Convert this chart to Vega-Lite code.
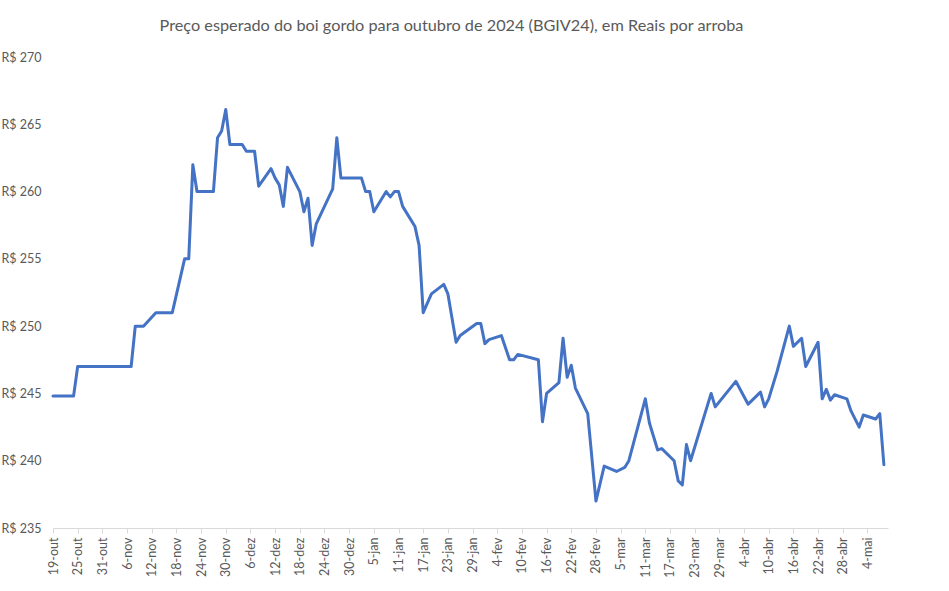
{
  "$schema": "https://vega.github.io/schema/vega-lite/v6.json",
  "autosize": "none",
  "width": 835,
  "height": 471,
  "padding": {"left": 53, "top": 57, "right": 61, "bottom": 63},
  "background": "white",
  "title": {
    "text": "Preço esperado do boi gordo para outubro de 2024 (BGIV24), em Reais por arroba",
    "anchor": "middle",
    "frame": "group",
    "dx": -19,
    "offset": 17,
    "font": "Lato",
    "fontSize": 16.25,
    "fontWeight": "normal",
    "color": "#595959"
  },
  "config": {
    "view": {"stroke": null},
    "font": "Lato"
  },
  "data": {
    "values": [
      {"date": "2023-10-19", "price": 244.8},
      {"date": "2023-10-20", "price": 244.8},
      {"date": "2023-10-23", "price": 244.8},
      {"date": "2023-10-24", "price": 244.8},
      {"date": "2023-10-25", "price": 247.0},
      {"date": "2023-10-26", "price": 247.0},
      {"date": "2023-10-27", "price": 247.0},
      {"date": "2023-10-30", "price": 247.0},
      {"date": "2023-10-31", "price": 247.0},
      {"date": "2023-11-01", "price": 247.0},
      {"date": "2023-11-03", "price": 247.0},
      {"date": "2023-11-06", "price": 247.0},
      {"date": "2023-11-07", "price": 247.0},
      {"date": "2023-11-08", "price": 250.0},
      {"date": "2023-11-09", "price": 250.0},
      {"date": "2023-11-10", "price": 250.0},
      {"date": "2023-11-13", "price": 251.0},
      {"date": "2023-11-14", "price": 251.0},
      {"date": "2023-11-16", "price": 251.0},
      {"date": "2023-11-17", "price": 251.0},
      {"date": "2023-11-20", "price": 255.0},
      {"date": "2023-11-21", "price": 255.0},
      {"date": "2023-11-22", "price": 262.0},
      {"date": "2023-11-23", "price": 260.0},
      {"date": "2023-11-24", "price": 260.0},
      {"date": "2023-11-27", "price": 260.0},
      {"date": "2023-11-28", "price": 264.0},
      {"date": "2023-11-29", "price": 264.5},
      {"date": "2023-11-30", "price": 266.1},
      {"date": "2023-12-01", "price": 263.5},
      {"date": "2023-12-04", "price": 263.5},
      {"date": "2023-12-05", "price": 263.0},
      {"date": "2023-12-06", "price": 263.0},
      {"date": "2023-12-07", "price": 263.0},
      {"date": "2023-12-08", "price": 260.4},
      {"date": "2023-12-11", "price": 261.7},
      {"date": "2023-12-12", "price": 261.0},
      {"date": "2023-12-13", "price": 260.5},
      {"date": "2023-12-14", "price": 258.9},
      {"date": "2023-12-15", "price": 261.8},
      {"date": "2023-12-18", "price": 260.0},
      {"date": "2023-12-19", "price": 258.5},
      {"date": "2023-12-20", "price": 259.5},
      {"date": "2023-12-21", "price": 256.0},
      {"date": "2023-12-22", "price": 257.6},
      {"date": "2023-12-26", "price": 260.2},
      {"date": "2023-12-27", "price": 264.0},
      {"date": "2023-12-28", "price": 261.0},
      {"date": "2023-12-29", "price": 261.0},
      {"date": "2024-01-02", "price": 261.0},
      {"date": "2024-01-03", "price": 260.0},
      {"date": "2024-01-04", "price": 260.0},
      {"date": "2024-01-05", "price": 258.5},
      {"date": "2024-01-08", "price": 260.0},
      {"date": "2024-01-09", "price": 259.6},
      {"date": "2024-01-10", "price": 260.0},
      {"date": "2024-01-11", "price": 260.0},
      {"date": "2024-01-12", "price": 258.9},
      {"date": "2024-01-15", "price": 257.4},
      {"date": "2024-01-16", "price": 256.0},
      {"date": "2024-01-17", "price": 251.0},
      {"date": "2024-01-19", "price": 252.4},
      {"date": "2024-01-22", "price": 253.1},
      {"date": "2024-01-23", "price": 252.4},
      {"date": "2024-01-25", "price": 248.8},
      {"date": "2024-01-26", "price": 249.3},
      {"date": "2024-01-30", "price": 250.2},
      {"date": "2024-01-31", "price": 250.2},
      {"date": "2024-02-01", "price": 248.7},
      {"date": "2024-02-02", "price": 249.0},
      {"date": "2024-02-05", "price": 249.3},
      {"date": "2024-02-07", "price": 247.5},
      {"date": "2024-02-08", "price": 247.5},
      {"date": "2024-02-09", "price": 247.9},
      {"date": "2024-02-14", "price": 247.5},
      {"date": "2024-02-15", "price": 242.9},
      {"date": "2024-02-16", "price": 245.0},
      {"date": "2024-02-19", "price": 245.8},
      {"date": "2024-02-20", "price": 249.1},
      {"date": "2024-02-21", "price": 246.2},
      {"date": "2024-02-22", "price": 247.1},
      {"date": "2024-02-23", "price": 245.4},
      {"date": "2024-02-26", "price": 243.5},
      {"date": "2024-02-28", "price": 237.0},
      {"date": "2024-03-01", "price": 239.6},
      {"date": "2024-03-04", "price": 239.2},
      {"date": "2024-03-06", "price": 239.5},
      {"date": "2024-03-07", "price": 240.0},
      {"date": "2024-03-11", "price": 244.6},
      {"date": "2024-03-12", "price": 242.8},
      {"date": "2024-03-14", "price": 240.8},
      {"date": "2024-03-15", "price": 240.9},
      {"date": "2024-03-18", "price": 240.0},
      {"date": "2024-03-19", "price": 238.5},
      {"date": "2024-03-20", "price": 238.2},
      {"date": "2024-03-21", "price": 241.2},
      {"date": "2024-03-22", "price": 240.0},
      {"date": "2024-03-27", "price": 245.0},
      {"date": "2024-03-28", "price": 244.0},
      {"date": "2024-04-02", "price": 245.9},
      {"date": "2024-04-05", "price": 244.2},
      {"date": "2024-04-08", "price": 245.1},
      {"date": "2024-04-09", "price": 244.0},
      {"date": "2024-04-10", "price": 244.6},
      {"date": "2024-04-12", "price": 246.6},
      {"date": "2024-04-15", "price": 250.0},
      {"date": "2024-04-16", "price": 248.5},
      {"date": "2024-04-18", "price": 249.1},
      {"date": "2024-04-19", "price": 247.0},
      {"date": "2024-04-22", "price": 248.8},
      {"date": "2024-04-23", "price": 244.6},
      {"date": "2024-04-24", "price": 245.3},
      {"date": "2024-04-25", "price": 244.5},
      {"date": "2024-04-26", "price": 244.9},
      {"date": "2024-04-29", "price": 244.6},
      {"date": "2024-04-30", "price": 243.7},
      {"date": "2024-05-02", "price": 242.5},
      {"date": "2024-05-03", "price": 243.4},
      {"date": "2024-05-06", "price": 243.1},
      {"date": "2024-05-07", "price": 243.5},
      {"date": "2024-05-08", "price": 239.7}
    ]
  },
  "mark": {"type": "line", "color": "#4472C4", "strokeWidth": 3, "strokeJoin": "round", "strokeCap": "round"},
  "encoding": {
    "x": {
      "field": "date",
      "type": "temporal",
      "scale": {
        "type": "utc",
        "domain": [
          {"year": 2023, "month": 10, "date": 19, "utc": true},
          {"year": 2024, "month": 5, "date": 9, "utc": true}
        ]
      },
      "axis": {
        "title": null,
        "values": [
          {"year": 2023, "month": 10, "date": 19, "utc": true},
          {"year": 2023, "month": 10, "date": 25, "utc": true},
          {"year": 2023, "month": 10, "date": 31, "utc": true},
          {"year": 2023, "month": 11, "date": 6, "utc": true},
          {"year": 2023, "month": 11, "date": 12, "utc": true},
          {"year": 2023, "month": 11, "date": 18, "utc": true},
          {"year": 2023, "month": 11, "date": 24, "utc": true},
          {"year": 2023, "month": 11, "date": 30, "utc": true},
          {"year": 2023, "month": 12, "date": 6, "utc": true},
          {"year": 2023, "month": 12, "date": 12, "utc": true},
          {"year": 2023, "month": 12, "date": 18, "utc": true},
          {"year": 2023, "month": 12, "date": 24, "utc": true},
          {"year": 2023, "month": 12, "date": 30, "utc": true},
          {"year": 2024, "month": 1, "date": 5, "utc": true},
          {"year": 2024, "month": 1, "date": 11, "utc": true},
          {"year": 2024, "month": 1, "date": 17, "utc": true},
          {"year": 2024, "month": 1, "date": 23, "utc": true},
          {"year": 2024, "month": 1, "date": 29, "utc": true},
          {"year": 2024, "month": 2, "date": 4, "utc": true},
          {"year": 2024, "month": 2, "date": 10, "utc": true},
          {"year": 2024, "month": 2, "date": 16, "utc": true},
          {"year": 2024, "month": 2, "date": 22, "utc": true},
          {"year": 2024, "month": 2, "date": 28, "utc": true},
          {"year": 2024, "month": 3, "date": 5, "utc": true},
          {"year": 2024, "month": 3, "date": 11, "utc": true},
          {"year": 2024, "month": 3, "date": 17, "utc": true},
          {"year": 2024, "month": 3, "date": 23, "utc": true},
          {"year": 2024, "month": 3, "date": 29, "utc": true},
          {"year": 2024, "month": 4, "date": 4, "utc": true},
          {"year": 2024, "month": 4, "date": 10, "utc": true},
          {"year": 2024, "month": 4, "date": 16, "utc": true},
          {"year": 2024, "month": 4, "date": 22, "utc": true},
          {"year": 2024, "month": 4, "date": 28, "utc": true},
          {"year": 2024, "month": 5, "date": 4, "utc": true}
        ],
        "labelExpr": "utcdate(datum.value) + '-' + ['jan','fev','mar','abr','mai','jun','jul','ago','set','out','nov','dez'][utcmonth(datum.value)]",
        "labelAngle": -90,
        "labelFontSize": 12.5,
        "labelColor": "#595959",
        "labelPadding": 4,
        "labelFlush": false,
        "labelOverlap": false,
        "grid": false,
        "domainColor": "#D9D9D9",
        "domainWidth": 1,
        "tickColor": "#D9D9D9",
        "tickSize": 5
      }
    },
    "y": {
      "field": "price",
      "type": "quantitative",
      "scale": {"domain": [235, 270], "nice": false, "zero": false},
      "axis": {
        "title": null,
        "values": [235, 240, 245, 250, 255, 260, 265, 270],
        "labelExpr": "'R$ ' + datum.value",
        "labelFontSize": 12.5,
        "labelColor": "#595959",
        "labelPadding": 12,
        "labelFlush": false,
        "labelOverlap": false,
        "grid": false,
        "domain": false,
        "ticks": false
      }
    }
  }
}
